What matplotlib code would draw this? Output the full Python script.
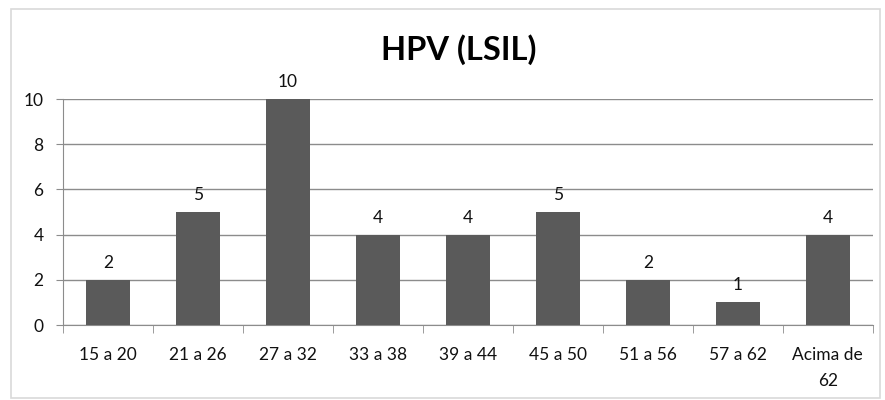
import matplotlib.pyplot as plt
import numpy as np
from matplotlib.patches import Rectangle

categories = ["15 a 20", "21 a 26", "27 a 32", "33 a 38", "39 a 44",
              "45 a 50", "51 a 56", "57 a 62", "Acima de\n62"]
values = [2, 5, 10, 4, 4, 5, 2, 1, 4]
yticks = [0, 2, 4, 6, 8, 10]

plt.rcParams['font.family'] = ['Lato', 'DejaVu Sans']

fig = plt.figure(figsize=(8.85, 4), dpi=100)
# outer chart frame
fig.patches.append(Rectangle((0.012, 0.005), 0.982, 0.972, transform=fig.transFigure,
                             fill=False, edgecolor='#d9d9d9', linewidth=1.2))
ax = fig.add_axes([0.0712, 0.1875, 0.915, 0.565])

x = np.arange(len(categories))
ax.bar(x, values, width=0.49, color='#5a5a5a', zorder=3)
for xi, v in zip(x, values):
    ax.text(xi, v + 0.4, str(v), ha='center', va='bottom', fontsize=12.5, color='#111111')

ax.set_xlim(-0.5, len(categories) - 0.5)
ax.set_ylim(0, 10)
ax.set_yticks(yticks)
ax.yaxis.grid(True, color='#8c8c8c', linewidth=1, zorder=0)
ax.set_xticks(x)
ax.set_xticklabels(categories, fontsize=12.5, color='#111111', linespacing=1.75)
ax.set_xticks(np.arange(-0.5, len(categories)), minor=True)
ax.tick_params(axis='x', which='major', length=0, pad=16)
ax.tick_params(axis='x', which='minor', length=6, color='#8c8c8c', direction='out')
ax.tick_params(axis='y', length=5, color='#8c8c8c', labelsize=12.5, labelcolor='#111111', pad=9)

for s in ['top', 'right']:
    ax.spines[s].set_visible(False)
for s in ['left', 'bottom']:
    ax.spines[s].set_color('#8c8c8c')

fig.text(0.518, 0.875, "HPV (LSIL)", ha='center', va='center', fontsize=23.5, fontweight='bold')

fig.savefig("out.png", dpi=100)
